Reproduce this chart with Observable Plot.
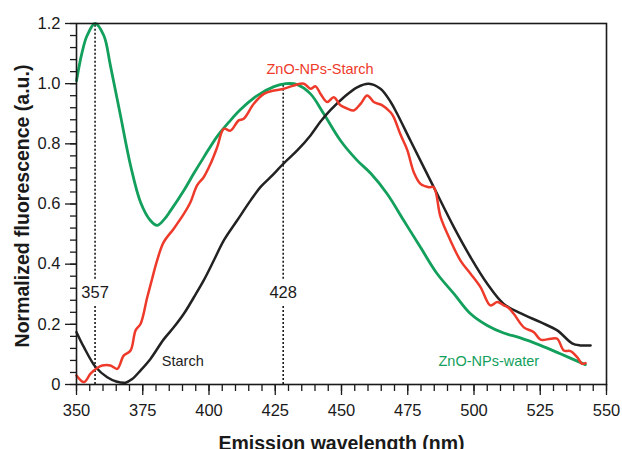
<!DOCTYPE html>
<html><head><meta charset="utf-8">
<script src="https://cdn.jsdelivr.net/npm/d3@7"></script>
<script src="https://cdn.jsdelivr.net/npm/@observablehq/plot@0.6"></script>
<style>
html,body{margin:0;padding:0;background:#fff;}
#chart svg{display:block;overflow:hidden;}
</style></head><body><div id="chart"></div>
<script>
const xTicks = [350,375,400,425,450,475,500,525,550];
const yTicks = [0,0.2,0.4,0.6,0.8,1.0,1.2];
const yTickLabels = ["0","0.2","0.4","0.6","0.8","1.0","1.2"];
const xTitle = "Emission wavelength (nm)";
const yTitle = "Normalized fluorescence (a.u.)";

// ZnO-NPs-water (green)
const water = [
[350,1.01],[352,1.1],[354,1.16],[357,1.2],[360.3,1.16],[362.8,1.06],[366.6,0.894],[370.4,0.728],
[374.2,0.605],[377.9,0.545],[380.4,0.529],[383,0.548],[385.5,0.578],[390.5,0.645],[394.3,0.702],
[398,0.755],[403.1,0.825],[407.5,0.872],[411.9,0.914],[418.2,0.96],[424.5,0.99],
[429,1.0],[433.3,0.997],[438.3,0.966],[443.3,0.9],[449.6,0.811],[455.9,0.745],[461,0.702],
[467.2,0.634],[473.5,0.545],[479.8,0.456],[486.1,0.368],[492.4,0.302],[498.7,0.235],[505,0.196],
[511.2,0.171],[517.5,0.155],[525.1,0.13],[532.6,0.102],[542,0.066]
];
// Starch (black)
const starch = [
[350,0.174],[352.8,0.124],[357.2,0.058],[361.6,0.024],[365,0.01],[368.5,0.006],[371,0.018],
[374.2,0.047],[377.9,0.085],[382.9,0.15],[386.7,0.19],[390.5,0.235],[394.3,0.29],[398,0.346],
[401.8,0.412],[405.6,0.479],[410.6,0.545],[415.7,0.612],[419.4,0.656],[423.2,0.689],[428.2,0.735],
[433.3,0.778],[438.3,0.828],[442.1,0.874],[445.8,0.912],[450.9,0.955],[455.9,0.988],[460.3,1.0],
[464.7,0.983],[468.5,0.94],[471,0.9],[476,0.811],[484.8,0.656],[492.4,0.523],[498.7,0.423],
[505,0.335],[511.2,0.268],[517.5,0.237],[525.1,0.207],[531.4,0.18],[537,0.137],[540,0.13],[544,0.13]
];
// ZnO-NPs-Starch (red)
const znoStarch = [
[350,0.03],[352.8,0.008],[355.3,0.036],[357.8,0.055],[359.7,0.063],[362.8,0.063],[365.4,0.052],
[367.8,0.096],[370.4,0.113],[372.3,0.18],[374.2,0.202],[376.7,0.29],[378.5,0.35],[380.4,0.412],
[382.9,0.473],[386.7,0.518],[390.5,0.567],[393,0.606],[395.5,0.662],[398,0.689],[400.6,0.734],
[403.1,0.789],[405.6,0.85],[408.1,0.844],[411.2,0.878],[413.1,0.883],[416.9,0.933],[420.7,0.966],
[424.5,0.977],[428.2,0.983],[432,0.994],[435.8,1.0],[438.3,0.983],[440.2,0.991],[442.1,0.966],
[444.6,0.939],[447.1,0.955],[449.6,0.928],[452.2,0.917],[454.6,0.911],[457.2,0.933],[459.7,0.961],
[462.2,0.939],[465.4,0.928],[468.5,0.905],[469.7,0.889],[472.3,0.83],[474.8,0.78],[477.3,0.705],
[479.8,0.667],[483,0.656],[484.8,0.656],[487.4,0.556],[491.1,0.479],[494.9,0.412],[498.7,0.368],
[502.5,0.323],[506.2,0.263],[508.8,0.274],[511.2,0.263],[513,0.255],[515,0.235],[518.8,0.19],
[522.6,0.174],[525.1,0.149],[528.9,0.152],[531.4,0.152],[533.9,0.113],[536.4,0.111],[538.9,0.091],
[540.8,0.069],[542.1,0.071]
];

const peaks = [357, 428];
const peakTops = [1.2, 1.0];
const peakLabels = ["357", "428"];
const seriesNames = ["ZnO-NPs-Starch", "Starch", "ZnO-NPs-water"];
const seriesColors = ["#ee3a2a", "#222222", "#12a05c"];

const peakLabelY = 0.306;
const segs = [];
peaks.forEach((p, i) => {
  segs.push({x: p, y1: 0, y2: 0.262});
  segs.push({x: p, y1: 0.35, y2: peakTops[i]});
});
const labelPos = [[441.9, 1.047], [390.1, 0.077], [505.6, 0.077]];
const seriesLabels = seriesNames.map((n, i) => ({name: n, x: labelPos[i][0], y: labelPos[i][1], c: seriesColors[i]}));

const font = "Liberation Sans, Arial, Helvetica, sans-serif";
const chart = Plot.plot({
  width: 622, height: 449,
  marginLeft: 76, marginRight: 16, marginTop: 23, marginBottom: 65,
  style: {fontFamily: font, color: "#1a1a1a", background: "#fff"},
  x: {domain: [350, 550], label: null},
  y: {domain: [0, 1.2], label: null},
  marks: [
    Plot.axisX(d3.range(350, 551, 5), {tickSize: 7, tickFormat: () => "", label: null, strokeWidth: 1.3}),
    Plot.axisX(xTicks, {tickSize: 11, tickPadding: 9, fontSize: 16.5, label: null, strokeWidth: 1.3, tickFormat: d => String(d)}),
    Plot.axisY(d3.range(0, 31).map(i => +(i * 0.04).toFixed(2)), {tickSize: 6, tickFormat: () => "", label: null, strokeWidth: 1.3}),
    Plot.axisY(yTicks, {tickSize: 11, tickPadding: 5, fontSize: 16.5, label: null, strokeWidth: 1.3, tickFormat: d => yTickLabels[yTicks.indexOf(d)]}),
    Plot.ruleX(segs, {x: "x", y1: "y1", y2: "y2", stroke: "#1a1a1a", strokeWidth: 1.6, strokeDasharray: "2,2"}),
    Plot.line(water, {x: d => d[0], y: d => d[1], stroke: seriesColors[2], strokeWidth: 2.8, curve: "catmull-rom"}),
    Plot.line(starch, {x: d => d[0], y: d => d[1], stroke: seriesColors[1], strokeWidth: 2.5, curve: "catmull-rom"}),
    Plot.line(znoStarch, {x: d => d[0], y: d => d[1], stroke: seriesColors[0], strokeWidth: 2.5, curve: "catmull-rom"}),
    Plot.text(peaks, {x: d => d, y: peakLabelY, text: (d, i) => peakLabels[i], fontSize: 16.5, fill: "#1a1a1a"}),
    Plot.text(seriesLabels, {x: "x", y: "y", text: "name", fill: "c", fontSize: 14.5}),
    Plot.frame({stroke: "#1a1a1a", strokeWidth: 1.6}),
    Plot.text([xTitle], {frameAnchor: "bottom", dy: 65, lineAnchor: "bottom", fontWeight: "bold", fontSize: 19.5, fill: "#1a1a1a"}),
    Plot.text([yTitle], {frameAnchor: "left", textAnchor: "middle", dx: -54, dy: 2, rotate: -90, fontWeight: "bold", fontSize: 19.5, fill: "#1a1a1a"})
  ]
});
document.getElementById("chart").appendChild(chart);
</script>
</body></html>
